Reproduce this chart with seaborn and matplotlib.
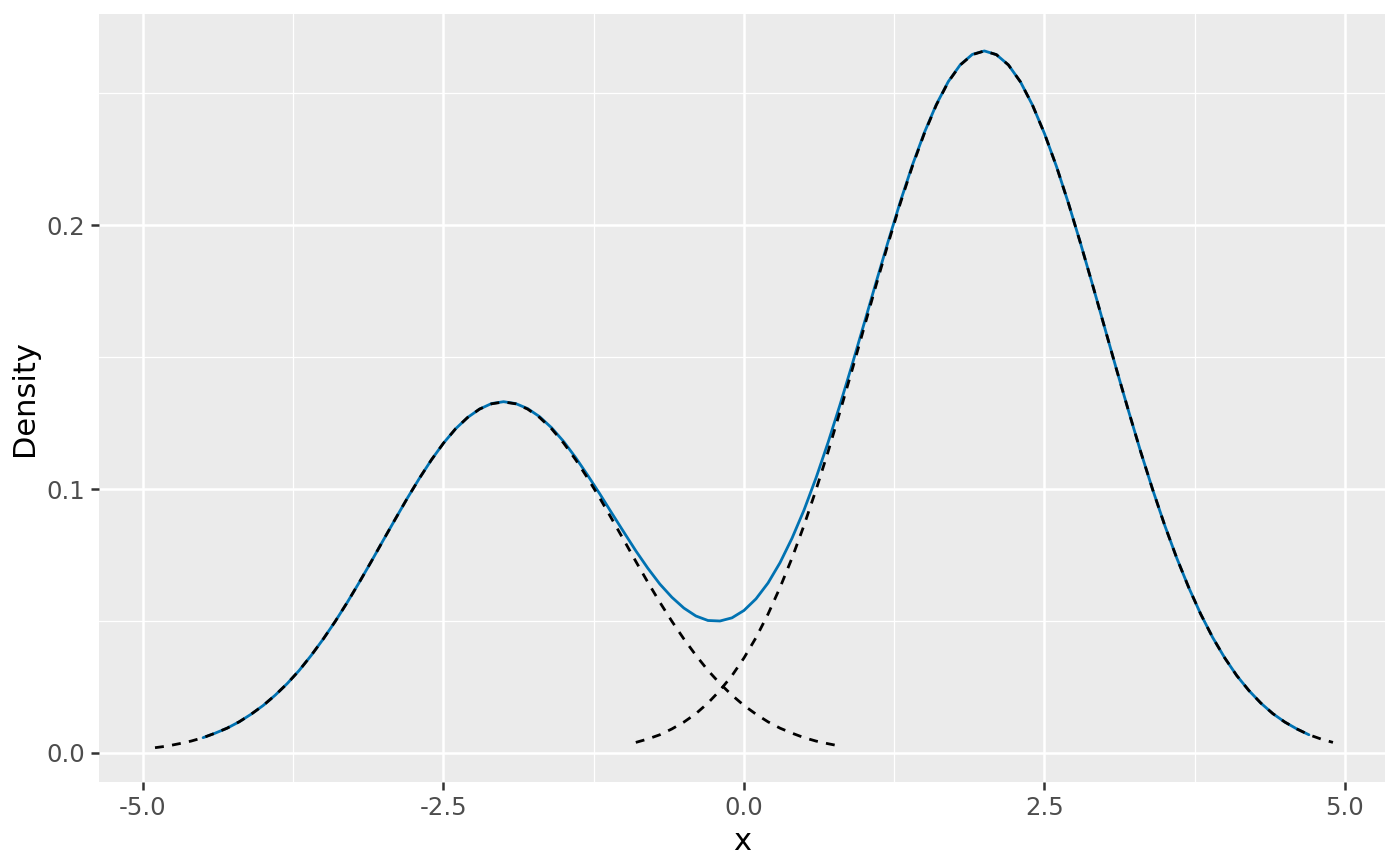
import numpy as np
import pandas as pd
import matplotlib.pyplot as plt
import seaborn as sns
from matplotlib.ticker import MultipleLocator

# component 1 (left bump)
comp1_x = np.round(np.linspace(-4.9, 0.8, 58), 1)
comp1_density = [0.0020, 0.0026, 0.0035, 0.0045, 0.0058, 0.0075, 0.0094, 0.0118, 0.0147, 0.0180,
                 0.0219, 0.0263, 0.0313, 0.0370, 0.0432, 0.0499, 0.0571, 0.0647, 0.0726, 0.0807,
                 0.0887, 0.0966, 0.1041, 0.1111, 0.1174, 0.1228, 0.1271, 0.1303, 0.1323, 0.1330,
                 0.1323, 0.1303, 0.1271, 0.1228, 0.1174, 0.1111, 0.1041, 0.0966, 0.0887, 0.0807,
                 0.0726, 0.0647, 0.0571, 0.0499, 0.0432, 0.0370, 0.0313, 0.0263, 0.0219, 0.0180,
                 0.0147, 0.0118, 0.0094, 0.0075, 0.0058, 0.0045, 0.0035, 0.0026]

# component 2 (right bump)
comp2_x = np.round(np.linspace(-0.9, 4.9, 59), 1)
comp2_density = [0.0040, 0.0053, 0.0069, 0.0091, 0.0117, 0.0149, 0.0189, 0.0237, 0.0293, 0.0360,
                 0.0437, 0.0526, 0.0627, 0.0739, 0.0863, 0.0998, 0.1142, 0.1295, 0.1452, 0.1613,
                 0.1774, 0.1931, 0.2082, 0.2222, 0.2347, 0.2455, 0.2543, 0.2607, 0.2646, 0.2660,
                 0.2646, 0.2607, 0.2543, 0.2455, 0.2347, 0.2222, 0.2082, 0.1931, 0.1774, 0.1613,
                 0.1452, 0.1295, 0.1142, 0.0998, 0.0863, 0.0739, 0.0627, 0.0526, 0.0437, 0.0360,
                 0.0293, 0.0237, 0.0189, 0.0149, 0.0117, 0.0091, 0.0069, 0.0053, 0.0040]

# mixture (blue line)
mix_x = np.round(np.linspace(-4.5, 4.7, 93), 1)
mix_density = [0.0058, 0.0075, 0.0094, 0.0118, 0.0147, 0.0180, 0.0219, 0.0263, 0.0313, 0.0370,
               0.0432, 0.0499, 0.0571, 0.0647, 0.0726, 0.0807, 0.0887, 0.0966, 0.1041, 0.1111,
               0.1174, 0.1228, 0.1271, 0.1303, 0.1324, 0.1331, 0.1324, 0.1305, 0.1274, 0.1232,
               0.1180, 0.1119, 0.1052, 0.0982, 0.0909, 0.0837, 0.0766, 0.0700, 0.0640, 0.0590,
               0.0549, 0.0519, 0.0502, 0.0500, 0.0512, 0.0540, 0.0584, 0.0644, 0.0721, 0.0814,
               0.0921, 0.1043, 0.1177, 0.1321, 0.1472, 0.1628, 0.1785, 0.1939, 0.2088, 0.2226,
               0.2350, 0.2457, 0.2544, 0.2608, 0.2647, 0.2660, 0.2646, 0.2607, 0.2543, 0.2455,
               0.2347, 0.2222, 0.2082, 0.1931, 0.1774, 0.1613, 0.1452, 0.1295, 0.1142, 0.0998,
               0.0863, 0.0739, 0.0627, 0.0526, 0.0437, 0.0360, 0.0293, 0.0237, 0.0189, 0.0149,
               0.0117, 0.0091, 0.0069]

x_ticks = [-5.0, -2.5, 0.0, 2.5, 5.0]
x_labels = ["-5.0", "-2.5", "0.0", "2.5", "5.0"]
y_ticks = [0.0, 0.1, 0.2]
y_labels = ["0.0", "0.1", "0.2"]

sns.set_theme(style="darkgrid", rc={"axes.facecolor": "#EBEBEB", "grid.color": "white"})
plt.rcParams["font.family"] = ["DejaVu Sans"]

DPI = 200
fig, ax = plt.subplots(figsize=(1400 / DPI, 866 / DPI), dpi=DPI)
fig.subplots_adjust(left=99 / 1400, right=1385 / 1400, top=1 - 14 / 866, bottom=1 - 782 / 866)

lw = 1.0
sns.lineplot(x=mix_x, y=mix_density, color="#0072B2", linewidth=lw, ax=ax)
sns.lineplot(x=comp1_x, y=comp1_density, color="black", linewidth=lw,
             linestyle=(0, (3.2, 3.0)), ax=ax)
sns.lineplot(x=comp2_x, y=comp2_density, color="black", linewidth=lw,
             linestyle=(0, (3.2, 3.0)), ax=ax)

ax.set_xlim(-5.366, 5.333)
ax.set_ylim(-0.011, 0.280)
ax.set_xticks(x_ticks)
ax.set_xticklabels(x_labels)
ax.set_yticks(y_ticks)
ax.set_yticklabels(y_labels)
ax.xaxis.set_minor_locator(MultipleLocator(1.25))
ax.yaxis.set_minor_locator(MultipleLocator(0.05))
ax.grid(which="major", color="white", linewidth=0.9)
ax.grid(which="minor", color="white", linewidth=0.45)
ax.set_axisbelow(True)
for s in ax.spines.values():
    s.set_visible(False)

ax.tick_params(which="major", length=2.75, width=0.9, color="#333333",
               labelcolor="#4D4D4D", labelsize=8.8, pad=2.2, bottom=True, left=True)
ax.tick_params(which="minor", length=0)

ax.set_xlabel("x", fontsize=11, color="black", labelpad=2.75)
ax.set_ylabel("Density", fontsize=11, color="black", labelpad=2.75)

plt.savefig("out.png", dpi=DPI)
